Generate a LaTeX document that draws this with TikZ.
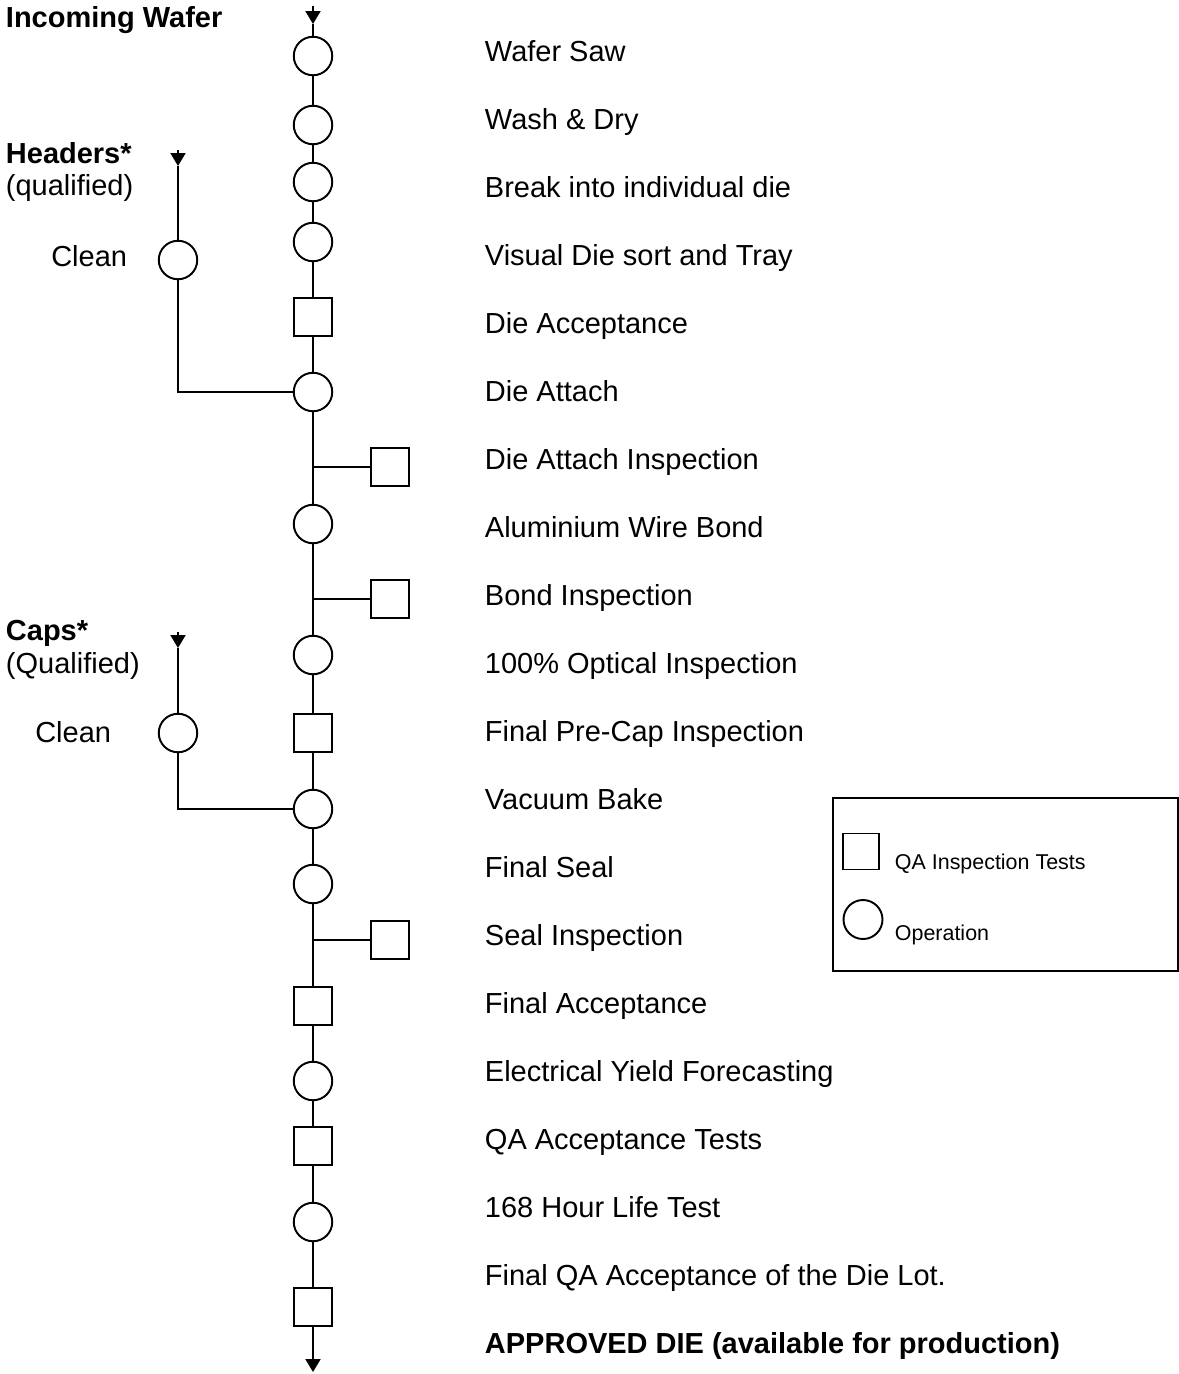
\documentclass[tikz,border=0pt]{standalone}
\usepackage{fontspec}
\setmainfont{Liberation Sans}
\usetikzlibrary{arrows.meta}
\tikzset{
  op/.style={circle, draw, minimum size=0.77cm, inner sep=0pt},
  qa/.style={rectangle, draw, minimum size=0.76cm, inner sep=0pt},
  arr/.style={-{Triangle[width=0.3cm,length=0.26cm]}},
  lbl/.style={anchor=base west, inner sep=0pt, font=\fontsize{16.5}{19}\selectfont},
  side/.style={inner sep=0pt, font=\fontsize{16.5}{19}\selectfont},
  key/.style={anchor=base west, inner sep=0pt, font=\fontsize{12.2}{14}\selectfont}
}
\begin{document}
\begin{tikzpicture}[x=0.02cm, y=-0.02cm, line width=1.1pt]
\useasboundingbox (0,0) rectangle (1179,1374);
\foreach \t [count=\i from 0] in {Wafer Saw, Wash \& Dry, Break into individual die,
  Visual Die sort and Tray, Die Acceptance, Die Attach, Die Attach Inspection,
  Aluminium Wire Bond, Bond Inspection, 100\% Optical Inspection,
  Final Pre-Cap Inspection, Vacuum Bake, Final Seal, Seal Inspection,
  Final Acceptance, Electrical Yield Forecasting, QA Acceptance Tests,
  168 Hour Life Test, Final QA Acceptance of the Die Lot.,
  {\bfseries APPROVED DIE (available for production)}}
  \node[lbl] (l\i) at (484,61+68.05*\i) {\t};
\coordinate (in) at (313,6);
\coordinate (inhead) at (313,24);
\node[op] (saw) at (313,56) {};
\node[op] (wash) at (313,125) {};
\node[op] (brk) at (313,182) {};
\node[op] (sort) at (313,242) {};
\node[qa] (dacc) at (313,317) {};
\node[op] (dattach) at (313,392) {};
\coordinate (j1) at (313,467);
\node[qa] (dainsp) at (390,467) {};
\node[op] (bond) at (313,524) {};
\coordinate (j2) at (313,599);
\node[qa] (bondinsp) at (390,599) {};
\node[op] (optical) at (313,655) {};
\node[qa] (precap) at (313,733) {};
\node[op] (bake) at (313,809) {};
\node[op] (seal) at (313,884) {};
\coordinate (j3) at (313,940);
\node[qa] (sealinsp) at (390,940) {};
\node[qa] (facc) at (313,1006) {};
\node[op] (elec) at (313,1081) {};
\node[qa] (qaacc) at (313,1146) {};
\node[op] (life) at (313,1222) {};
\node[qa] (lotacc) at (313,1307) {};
\coordinate (out) at (313,1372);
\draw[arr] (in) -- (inhead);
\draw (inhead) -- (saw) -- (wash) -- (brk) -- (sort) -- (dacc) -- (dattach) -- (bond)
  -- (optical) -- (precap) -- (bake) -- (seal) -- (facc) -- (elec) -- (qaacc) -- (life) -- (lotacc);
\draw[arr] (lotacc) -- (out);
\draw (j1) -- (dainsp);
\draw (j2) -- (bondinsp);
\draw (j3) -- (sealinsp);
\node[side, anchor=base west, font=\fontsize{16.5}{19}\selectfont\bfseries] (wafer) at (5,27) {Incoming Wafer};
\node[side, anchor=base west, font=\fontsize{16.5}{19}\selectfont\bfseries] (headers) at (5,163) {Headers*};
\node[side, anchor=base west] (hqual) at (5,195) {(qualified)};
\node[side, anchor=base east] (hcleanlbl) at (128,266) {Clean};
\coordinate (hin) at (178,150);
\coordinate (hhead) at (178,166);
\node[op] (hclean) at (178,260) {};
\draw[arr] (hin) -- (hhead);
\draw (hhead) -- (hclean) |- (dattach);
\node[side, anchor=base west, font=\fontsize{16.5}{19}\selectfont\bfseries] (caps) at (5,640) {Caps*};
\node[side, anchor=base west] (cqual) at (5,673) {(Qualified)};
\node[side, anchor=base east] (ccleanlbl) at (112,742) {Clean};
\coordinate (cin) at (178,632);
\coordinate (chead) at (178,648);
\node[op] (cclean) at (178,733) {};
\draw[arr] (cin) -- (chead);
\draw (chead) -- (cclean) |- (bake);
\node[draw, minimum width=6.9cm, minimum height=3.46cm, inner sep=0pt] (legend) at (1005.5,884.5) {};
\node[qa, minimum size=0.72cm] (keyqa) at (861,851.5) {};
\node[op, minimum size=0.78cm] (keyop) at (863,919.5) {};
\node[key] (keyqalbl) at (894,869) {QA Inspection Tests};
\node[key] (keyoplbl) at (894,940) {Operation};
\end{tikzpicture}
\end{document}
